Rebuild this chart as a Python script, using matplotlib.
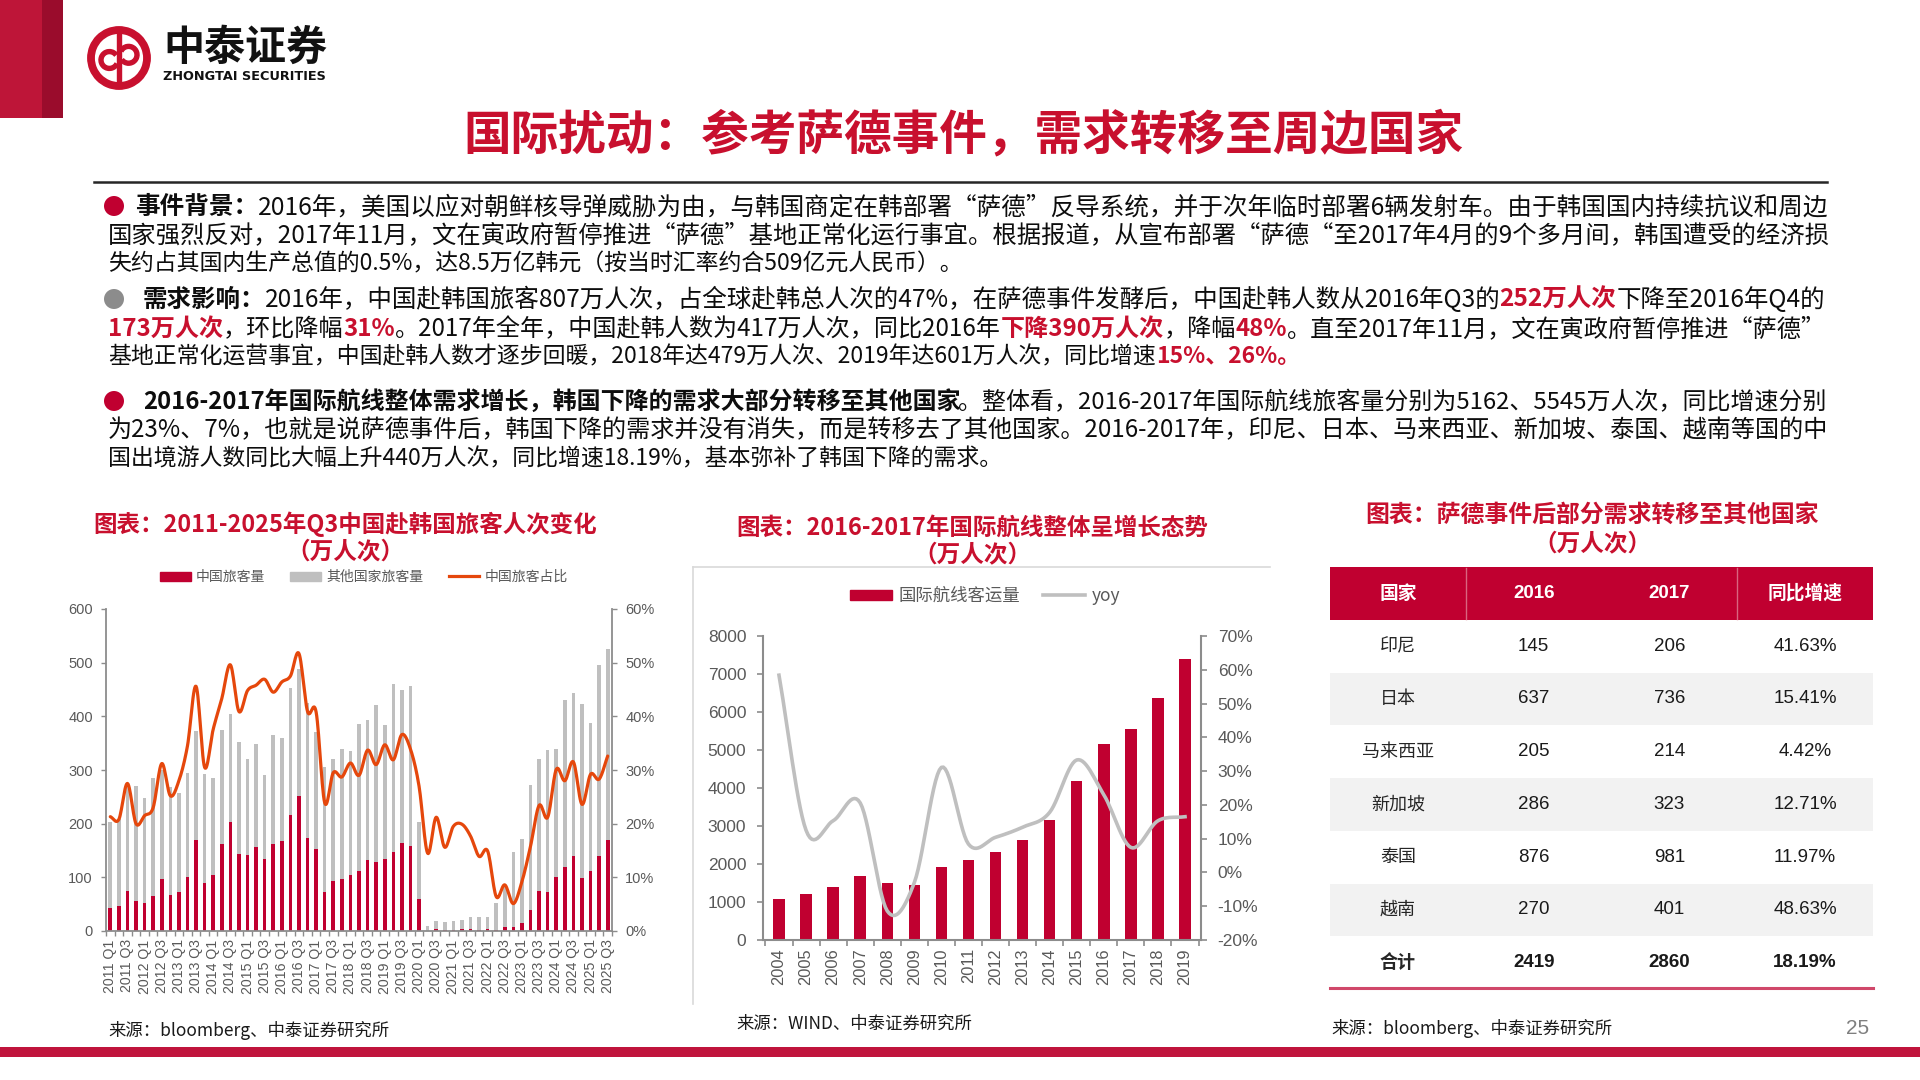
import numpy as np
import matplotlib
matplotlib.use('Agg')
import matplotlib.pyplot as plt
from matplotlib.patches import Rectangle, Ellipse, Wedge, Patch
from matplotlib.lines import Line2D

plt.rcParams['font.family'] = ['Noto Sans CJK SC', 'DejaVu Sans']
plt.rcParams['axes.unicode_minus'] = False

# ---------------- data ----------------
quarter_labels = [f"{y} Q{q}" for y in range(2011, 2026) for q in range(1, 5)][:59]
china_visitors = [43, 47, 74, 55, 53, 66, 96, 68, 72, 101, 170, 89, 104, 163, 203, 144,
                  142, 157, 135, 162, 167, 216, 252, 173, 152, 72, 94, 97, 105, 111, 132, 129,
                  134, 147, 164, 159, 59, 0.5, 4, 2, 2, 3, 4, 2, 3, 2, 7, 7, 14, 39, 74, 72,
                  100, 120, 139, 99, 112, 140, 170]
total_visitors = [203, 208, 270, 270, 248, 286, 300, 269, 258, 294, 372, 292, 286, 375, 405, 353,
                  321, 348, 290, 365, 360, 453, 489, 424, 370, 305, 320, 339, 336, 386, 393, 421,
                  384, 460, 449, 457, 203, 9, 19, 17, 19, 21, 26, 27, 27, 53, 85, 147, 172, 272,
                  320, 337, 340, 431, 443, 423, 387, 495, 525]
china_share_pct = [21.3, 20.8, 27.5, 20.0, 21.5, 23.0, 31.2, 25.2, 28.0, 34.5, 45.6, 30.5, 37.6,
                   43.3, 49.6, 40.9, 44.8, 45.8, 46.9, 44.5, 46.4, 47.5, 51.7, 40.9, 40.8, 23.9,
                   29.5, 28.7, 31.3, 29.0, 33.7, 31.0, 34.7, 31.9, 36.6, 33.9, 27.0, 14.5, 21.2,
                   15.6, 19.5, 19.9, 17.7, 13.9, 14.9, 6.4, 8.6, 5.1, 9.2, 15.8, 23.4, 21.2, 30.1,
                   28.0, 31.5, 23.6, 29.2, 28.3, 32.6]

intl_years = [str(y) for y in range(2004, 2020)]
intl_passengers = [1070, 1217, 1391, 1678, 1496, 1452, 1913, 2104, 2313, 2626, 3148, 4180,
                   5162, 5545, 6360, 7393]
intl_yoy_pct = [58.4, 12.5, 15.3, 20.6, -11.4, -3.0, 31.1, 8.4, 10.4, 13.4, 17.8, 33.3,
                23.0, 7.4, 15.3, 16.5]

table_header = ['国家', '2016', '2017', '同比增速']
countries = ['印尼', '日本', '马来西亚', '新加坡', '泰国', '越南', '合计']
pax_2016 = [145, 637, 205, 286, 876, 270, 2419]
pax_2017 = [206, 736, 214, 323, 981, 401, 2860]
growth_pct = [41.63, 15.41, 4.42, 12.71, 11.97, 48.63, 18.19]

# ---------------- styles ----------------
RED = '#C00030'
TXT_RED = '#C8102E'
GRAY_BAR = '#BFBFBF'
ORANGE = '#E5470C'
AX_GRAY = '#8C8C8C'
LBL = '#595959'

W, H = 1920, 1080
fig = plt.figure(figsize=(19.2, 10.8), dpi=100)
fig.patch.set_facecolor('white')
renderer = fig.canvas.get_renderer()


def fx(x):
    return x / W


def fy(y):
    return 1 - y / H


def text_width(s, size, **kw):
    t = fig.text(0, 0, s, fontsize=size, **kw)
    w = t.get_window_extent(renderer=renderer).width
    t.remove()
    return w


def fit_text(x, y, s, target_w, base=20, ha='center', **kw):
    w = text_width(s, base, **kw)
    fs = base * target_w / w
    return fig.text(fx(x), fy(y), s, fontsize=fs, ha=ha, va='center', **kw)


def smooth(x, y, n=14):
    P = np.column_stack([np.asarray(x, float), np.asarray(y, float)])
    P = np.vstack([2 * P[0] - P[1], P, 2 * P[-1] - P[-2]])
    t = np.linspace(0, 1, n, endpoint=False)[:, None]
    out = []
    for i in range(1, len(P) - 2):
        p0, p1, p2, p3 = P[i - 1], P[i], P[i + 1], P[i + 2]
        seg = 0.5 * (2 * p1 + (-p0 + p2) * t + (2 * p0 - 5 * p1 + 4 * p2 - p3) * t ** 2
                     + (-p0 + 3 * p1 - 3 * p2 + p3) * t ** 3)
        out.append(seg)
    out.append(P[-2][None, :])
    return np.vstack(out)


# ---------------- header ----------------
fig.add_artist(Rectangle((0, fy(118)), 42 / W, 118 / H, transform=fig.transFigure,
                         color='#BE1538', lw=0))
fig.add_artist(Rectangle((fx(42), fy(118)), 21 / W, 118 / H, transform=fig.transFigure,
                         color='#9A0C2C', lw=0))

axlogo = fig.add_axes([fx(79), fy(98), 80 / W, 80 / H])
axlogo.set_xlim(-1, 1)
axlogo.set_ylim(-1, 1)
axlogo.axis('off')
LOGO = '#C8102E'
axlogo.add_patch(Wedge((0, 0), 0.78, 0, 360, width=0.16, color=LOGO))
axlogo.add_patch(Rectangle((-0.045, -0.62), 0.09, 1.24, color=LOGO))
axlogo.add_patch(Wedge((-0.24, -0.05), 0.26, 40, 330, width=0.1, color=LOGO))
axlogo.add_patch(Wedge((0.24, 0.08), 0.26, 220, 510, width=0.1, color=LOGO))

fit_text(163, 48, '中泰证券', 164, ha='left', fontweight='bold', color='#111111')
fit_text(163, 77, 'ZHONGTAI SECURITIES', 164, ha='left', fontweight='bold',
         color='#111111', family=['DejaVu Sans'])

# main title
fit_text(963, 135, '国际扰动：参考萨德事件，需求转移至周边国家', 1000,
         fontweight='bold', color=TXT_RED)
fig.add_artist(Line2D([fx(94), fx(1827)], [fy(182), fy(182)], transform=fig.transFigure,
                      color='#262626', lw=1.8))

# ---------------- paragraphs ----------------
P_SIZE = 16.5
RIGHT = 1825


def draw_line(runs, x0, yc, size, justify=True):
    wts = ['bold' if st in 'br' else 'normal' for _, st in runs]
    widths = [text_width(s, size, fontweight=w) for (s, _), w in zip(runs, wts)]
    tot = sum(widths)
    scale = 1.0
    if justify:
        scale = float(np.clip((RIGHT - x0) / tot, 0.88, 1.12))
    fs = size * scale
    base = yc + 0.37 * fs * 100 / 72
    x = x0
    for (s, st), w, wt in zip(runs, widths, wts):
        col = TXT_RED if st == 'r' else '#0D0D0D'
        fig.text(fx(x), fy(base), s, fontsize=fs, fontweight=wt, color=col,
                 ha='left', va='baseline')
        x += w * scale


para1 = [
    [('事件背景：', 'b'), ('2016年，美国以应对朝鲜核导弹威胁为由，与韩国商定在韩部署“萨德”反导系统，并于次年临时部署6辆发射车。由于韩国国内持续抗议和周边', 'n')],
    [('国家强烈反对，2017年11月，文在寅政府暂停推进“萨德”基地正常化运行事宜。根据报道，从宣布部署“萨德“至2017年4月的9个多月间，韩国遭受的经济损', 'n')],
    [('失约占其国内生产总值的0.5%，达8.5万亿韩元（按当时汇率约合509亿元人民币）。', 'n')],
]
para2 = [
    [('需求影响：', 'b'), ('2016年，中国赴韩国旅客807万人次，占全球赴韩总人次的47%，在萨德事件发酵后，中国赴韩人数从2016年Q3的', 'n'),
     ('252万人次', 'r'), ('下降至2016年Q4的', 'n')],
    [('173万人次', 'r'), ('，环比降幅', 'n'), ('31%', 'r'), ('。2017年全年，中国赴韩人数为417万人次，同比2016年', 'n'),
     ('下降390万人次', 'r'), ('，降幅', 'n'), ('48%', 'r'), ('。直至2017年11月，文在寅政府暂停推进“萨德”', 'n')],
    [('基地正常化运营事宜，中国赴韩人数才逐步回暖，2018年达479万人次、2019年达601万人次，同比增速', 'n'),
     ('15%、26%。', 'r')],
]
para3 = [
    [('2016-2017年国际航线整体需求增长，韩国下降的需求大部分转移至其他国家', 'b'),
     ('。整体看，2016-2017年国际航线旅客量分别为5162、5545万人次，同比增速分别', 'n')],
    [('为23%、7%，也就是说萨德事件后，韩国下降的需求并没有消失，而是转移去了其他国家。2016-2017年，印尼、日本、马来西亚、新加坡、泰国、越南等国的中', 'n')],
    [('国出境游人数同比大幅上升440万人次，同比增速18.19%，基本弥补了韩国下降的需求。', 'n')],
]

for para, ys, x_first, dot_col in [(para1, [205, 233, 262], 135, RED),
                                   (para2, [298, 327, 355], 143, '#8C8C8C'),
                                   (para3, [400, 428, 457], 143, RED)]:
    fig.add_artist(Ellipse((fx(114), fy(ys[0] + 1)), 20 / W, 20 / H,
                           transform=fig.transFigure, color=dot_col, lw=0))
    for i, (runs, yc) in enumerate(zip(para, ys)):
        draw_line(runs, x_first if i == 0 else 108, yc, P_SIZE, justify=(i < 2))

# ---------------- left chart ----------------
fit_text(345, 524, '图表：2011-2025年Q3中国赴韩国旅客人次变化', 503,
         fontweight='bold', color=TXT_RED)
fig.text(fx(345), fy(552), '（万人次）', fontsize=17, fontweight='bold', color=TXT_RED,
         ha='center', va='center')

axL = fig.add_axes([fx(106), fy(931), (612 - 106) / W, (931 - 609) / H])
xq = np.arange(len(china_visitors))
china = np.array(china_visitors, float)
total = np.array(total_visitors, float)
axL.bar(xq, china, width=0.42, color=RED, lw=0, zorder=2)
axL.bar(xq, total - china, bottom=china, width=0.42, color=GRAY_BAR, lw=0, zorder=2)
axL.set_xlim(-0.5, 58.4)
axL.set_ylim(0, 600)
axL.set_yticks(np.arange(0, 601, 100))
axL.set_yticklabels([str(v) for v in range(0, 601, 100)], fontsize=10.5, color=LBL,
                    family=['Liberation Sans'])
axL.set_xticks(xq[::2])
axL.set_xticklabels(quarter_labels[::2], rotation=90, fontsize=10.2, color=LBL,
                    family=['Liberation Sans'])
axL.set_xticks(np.arange(-0.5, 59, 1), minor=True)
axL.tick_params(axis='x', which='major', length=0, pad=6)
axL.tick_params(axis='x', which='minor', length=3.5, color=AX_GRAY, width=1)
axL.tick_params(axis='y', length=3.5, color=AX_GRAY, width=1, pad=6)
for s in ['top', 'right']:
    axL.spines[s].set_visible(False)
for s in ['left', 'bottom']:
    axL.spines[s].set_color(AX_GRAY)
    axL.spines[s].set_linewidth(1.3)

axLr = axL.twinx()
sm = smooth(xq, np.array(china_share_pct) / 100)
axLr.plot(sm[:, 0], sm[:, 1], color=ORANGE, lw=2.3, zorder=3, solid_capstyle='round')
axLr.set_ylim(0, 0.6)
axLr.set_yticks(np.arange(0, 0.61, 0.1))
axLr.set_yticklabels([f"{v}%" for v in range(0, 61, 10)], fontsize=10.5, color=LBL,
                     family=['Liberation Sans'])
axLr.tick_params(axis='y', length=3.5, color=AX_GRAY, width=1, pad=6)
for s in ['top', 'left', 'bottom']:
    axLr.spines[s].set_visible(False)
axLr.spines['right'].set_color(AX_GRAY)
axLr.spines['right'].set_linewidth(1.3)

legL = [Patch(color=RED), Patch(color=GRAY_BAR), Line2D([], [], color=ORANGE, lw=2.3)]
axL.legend(legL, ['中国旅客量', '其他国家旅客量', '中国旅客占比'], ncol=3, loc='center',
           bbox_to_anchor=(fx(364), fy(577)), bbox_transform=fig.transFigure, frameon=False,
           fontsize=10, labelcolor=LBL, handlelength=2.2, handleheight=0.6,
           handletextpad=0.4, columnspacing=1.8)

fig.text(fx(108), fy(1030), '来源：bloomberg、中泰证券研究所', fontsize=12.5, color='#1A1A1A',
         ha='left', va='center')

# ---------------- middle chart ----------------
fit_text(972, 528, '图表：2016-2017年国际航线整体呈增长态势', 473,
         fontweight='bold', color=TXT_RED)
fig.text(fx(972), fy(555), '（万人次）', fontsize=17, fontweight='bold', color=TXT_RED,
         ha='center', va='center')
fig.add_artist(Line2D([fx(693), fx(693)], [fy(567), fy(1004)], transform=fig.transFigure,
                      color='#D9D9D9', lw=1.2))
fig.add_artist(Line2D([fx(693), fx(1270)], [fy(567), fy(567)], transform=fig.transFigure,
                      color='#D9D9D9', lw=1.2))

axM = fig.add_axes([fx(763), fy(940), (1201 - 763) / W, (940 - 636) / H])
xm = np.arange(len(intl_passengers))
axM.bar(xm, intl_passengers, width=0.42, color=RED, lw=0, zorder=2)
axM.set_xlim(-0.59, 15.59)
axM.set_ylim(0, 8000)
axM.set_yticks(np.arange(0, 8001, 1000))
axM.set_yticklabels([str(v) for v in range(0, 8001, 1000)], fontsize=12.5, color=LBL,
                    family=['Liberation Sans'])
axM.set_xticks(xm)
axM.set_xticklabels(intl_years, rotation=90, fontsize=11.8, color=LBL,
                    family=['Liberation Sans'])
axM.set_xticks(np.arange(-0.5, 16, 1), minor=True)
axM.tick_params(axis='x', which='major', length=0, pad=6)
axM.tick_params(axis='x', which='minor', length=4, color=AX_GRAY, width=1.2)
axM.tick_params(axis='y', length=4, color=AX_GRAY, width=1.2, pad=8)
for s in ['top', 'right']:
    axM.spines[s].set_visible(False)
for s in ['left', 'bottom']:
    axM.spines[s].set_color(AX_GRAY)
    axM.spines[s].set_linewidth(1.5)

axMr = axM.twinx()
smm = smooth(xm, np.array(intl_yoy_pct) / 100)
axMr.plot(smm[:, 0], smm[:, 1], color=GRAY_BAR, lw=2.6, zorder=3)
axMr.set_ylim(-0.2, 0.7)
axMr.set_yticks(np.arange(-0.2, 0.71, 0.1))
axMr.set_yticklabels([f"{v}%" for v in range(-20, 71, 10)], fontsize=12.5, color=LBL,
                     family=['Liberation Sans'])
axMr.tick_params(axis='y', length=4, color=AX_GRAY, width=1.2, pad=8)
for s in ['top', 'left', 'bottom']:
    axMr.spines[s].set_visible(False)
axMr.spines['right'].set_color(AX_GRAY)
axMr.spines['right'].set_linewidth(1.5)

legM = [Patch(color=RED), Line2D([], [], color=GRAY_BAR, lw=2.6)]
axM.legend(legM, ['国际航线客运量', 'yoy'], ncol=2, loc='center',
           bbox_to_anchor=(fx(985), fy(596)), bbox_transform=fig.transFigure, frameon=False,
           fontsize=12.5, labelcolor=LBL, handlelength=2.4, handleheight=0.5,
           handletextpad=0.4, columnspacing=1.3)

fig.text(fx(736), fy(1024), '来源：WIND、中泰证券研究所', fontsize=12.5, color='#1A1A1A',
         ha='left', va='center')

# ---------------- table ----------------
fit_text(1592, 516, '图表：萨德事件后部分需求转移至其他国家', 453,
         fontweight='bold', color=TXT_RED)
fig.text(fx(1592), fy(544), '（万人次）', fontsize=17, fontweight='bold', color=TXT_RED,
         ha='center', va='center')

axT = fig.add_axes([fx(1330), fy(989), (1873 - 1330) / W, (989 - 567) / H])
nrows = len(countries) + 1
axT.set_xlim(0, 4)
axT.set_ylim(nrows, 0)
axT.axis('off')
axT.add_patch(Rectangle((0, 0), 4, 1, color=RED, lw=0))
for c in [1, 3]:
    axT.plot([c, c], [0.02, 0.98], color='#D9667F', lw=1)
for j, h in enumerate(table_header):
    axT.text(j + 0.5, 0.5, h, ha='center', va='center', color='white', fontweight='bold',
             fontsize=13.5, family=(['Liberation Sans'] if h.isdigit() else
                                    ['Noto Sans CJK SC', 'DejaVu Sans']))
for i, (name, a, b, g) in enumerate(zip(countries, pax_2016, pax_2017, growth_pct)):
    r = i + 1
    if r % 2 == 0:
        axT.add_patch(Rectangle((0, r), 4, 1, color='#F2F2F2', lw=0))
    last = (i == len(countries) - 1)
    wt = 'bold' if last else 'normal'
    axT.text(0.5, r + 0.5, name, ha='center', va='center', fontsize=13, color='#262626',
             fontweight=wt)
    for j, v in enumerate([f"{a}", f"{b}", f"{g:.2f}%"]):
        axT.text(j + 1.5, r + 0.5, v, ha='center', va='center', fontsize=13.5,
                 color='#1A1A1A', fontweight=wt, family=['Liberation Sans'])
axT.plot([0, 4], [nrows - 0.01, nrows - 0.01], color='#D0486A', lw=2.2, clip_on=False)

fig.text(fx(1331), fy(1029), '来源：bloomberg、中泰证券研究所', fontsize=12.5, color='#1A1A1A',
         ha='left', va='center')

# ---------------- footer ----------------
fig.text(fx(1858), fy(1029), '25', fontsize=15, color='#7F7F7F', ha='center', va='center',
         family=['Liberation Sans'])
fig.add_artist(Rectangle((0, fy(1057)), 1, 10 / H, transform=fig.transFigure,
                         color='#C0143C', lw=0))

fig.savefig('out.png', dpi=100, facecolor='white')
